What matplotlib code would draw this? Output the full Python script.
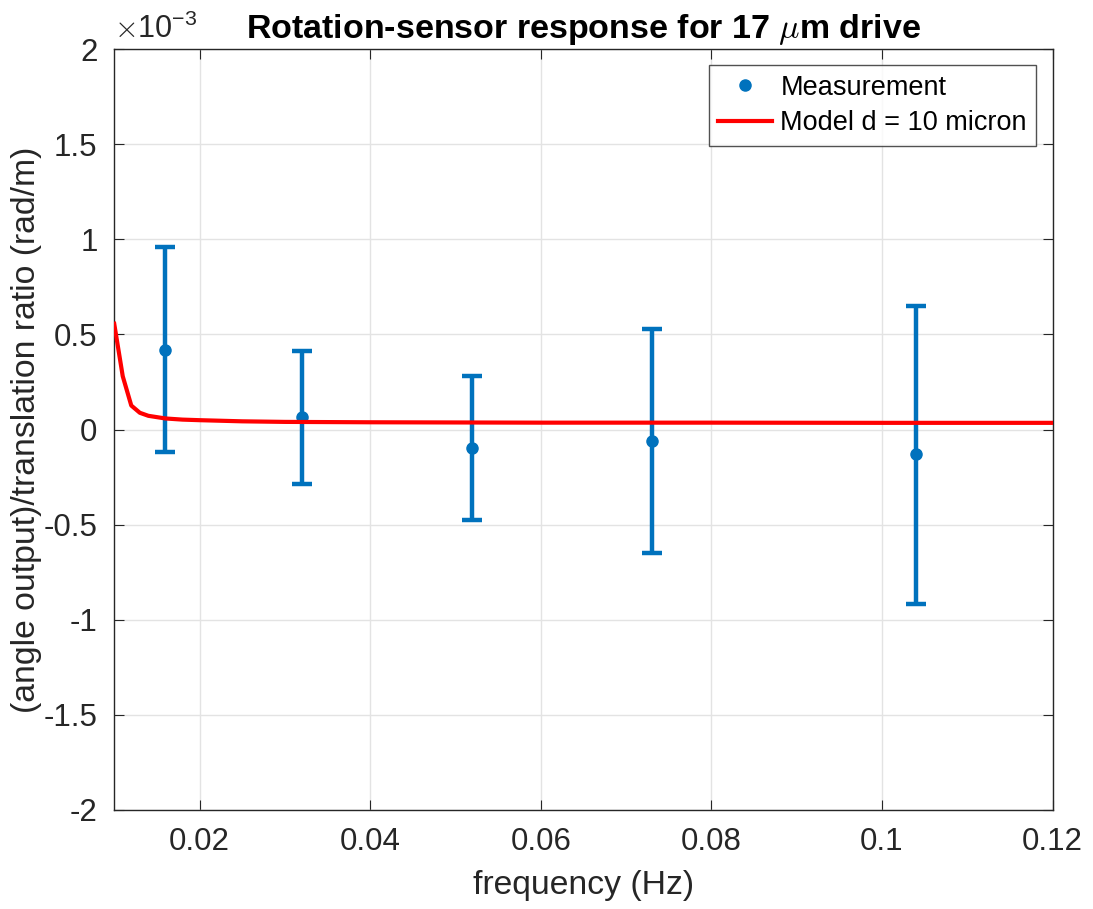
import matplotlib
matplotlib.use("Agg")
import matplotlib.pyplot as plt
from matplotlib.lines import Line2D

plt.rcParams['font.family'] = ['Liberation Sans', 'DejaVu Sans']
plt.rcParams['axes.unicode_minus'] = False
plt.rcParams['mathtext.fontset'] = 'cm'

# Measurement data
freq = [0.016, 0.032, 0.052, 0.073, 0.104]
ratio = [0.42e-3, 0.068e-3, -0.095e-3, -0.058e-3, -0.13e-3]
err_upper = [0.96e-3, 0.415e-3, 0.28e-3, 0.53e-3, 0.647e-3]
err_lower = [-0.12e-3, -0.284e-3, -0.474e-3, -0.647e-3, -0.916e-3]

# Model curve d = 10 micron
model_freq = [0.010, 0.011, 0.012, 0.013, 0.014, 0.016, 0.018, 0.020,
              0.025, 0.030, 0.040, 0.060, 0.080, 0.100, 0.120]
model_ratio = [0.556e-3, 0.28e-3, 0.126e-3, 0.088e-3, 0.072e-3, 0.058e-3,
               0.052e-3, 0.049e-3, 0.043e-3, 0.040e-3, 0.038e-3, 0.036e-3,
               0.036e-3, 0.035e-3, 0.035e-3]

xticks = [0.02, 0.04, 0.06, 0.08, 0.1, 0.12]
xticklabels = ['0.02', '0.04', '0.06', '0.08', '0.1', '0.12']
yticks = [-2, -1.5, -1, -0.5, 0, 0.5, 1, 1.5, 2]

blue = '#0072BD'
red = '#FF0000'
dark = '#262626'
fig = plt.figure(figsize=(10.93, 9.09), dpi=100)
ax = fig.add_axes([0.1045, 0.109, 0.8585, 0.837])

yerr = [[r - lo for r, lo in zip(ratio, err_lower)],
        [hi - r for r, hi in zip(ratio, err_upper)]]
ax.errorbar(freq, ratio, yerr=yerr, fmt='o', color=blue, ms=8, lw=3.2,
            capsize=7, capthick=3.2, zorder=3)
ax.plot(model_freq, model_ratio, color=red, lw=3, zorder=4)

ax.set_xlim(0.01, 0.12)
ax.set_ylim(-2e-3, 2e-3)
ax.set_xticks(xticks)
ax.set_xticklabels(xticklabels)
ax.set_yticks([v * 1e-3 for v in yticks])
ax.set_yticklabels(['%g' % v for v in yticks])
ax.text(0.0, 1.005, r'$\times\mathregular{10^{-3}}$', transform=ax.transAxes,
        fontsize=22, ha='left', va='bottom', color=dark)

ax.grid(True, color='#E3E3E3', lw=1)
ax.set_axisbelow(True)
ax.tick_params(direction='in', top=True, right=True, labelsize=22.5,
               colors=dark, length=7, pad=12)
for s in ax.spines.values():
    s.set_color(dark)
    s.set_linewidth(1)

ax.set_xlabel('frequency (Hz)', fontsize=24.3, color=dark, labelpad=10)
ax.set_ylabel('(angle output)/translation ratio (rad/m)', fontsize=24.3,
              color=dark, labelpad=1)
ax.set_title(r'Rotation-sensor response for 17 $\mu$m drive', fontsize=24.5,
             fontweight='bold', pad=8)

handles = [Line2D([], [], color=blue, marker='o', ms=8, ls='none'),
           Line2D([], [], color=red, lw=3)]
leg = ax.legend(handles, ['Measurement', 'Model d = 10 micron'],
                loc='upper right', fontsize=19.5, frameon=True, fancybox=False,
                edgecolor=dark, borderpad=0.35, handlelength=2.0,
                handletextpad=0.3, borderaxespad=0.6, labelspacing=0.35)
leg.get_frame().set_linewidth(1)

fig.savefig('out.png', dpi=100)
